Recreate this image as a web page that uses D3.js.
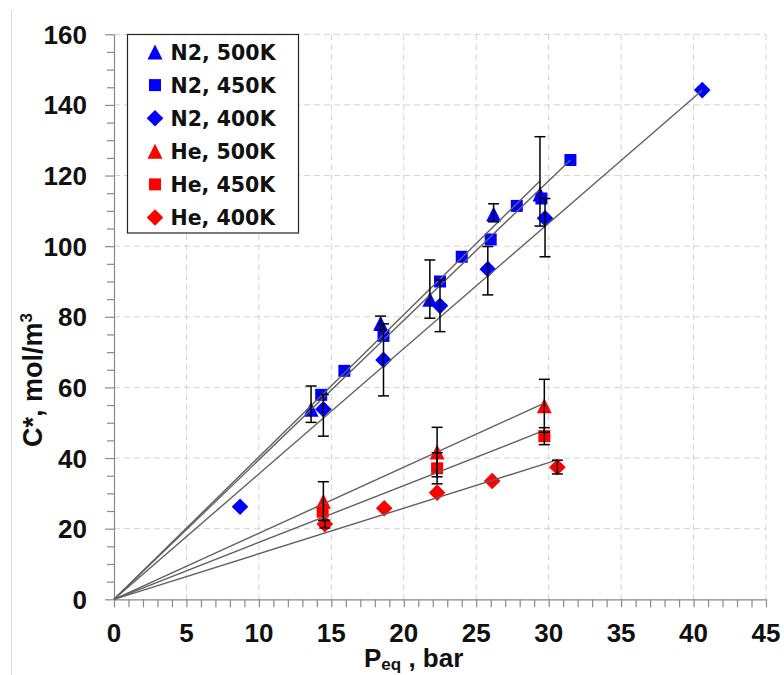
<!DOCTYPE html>
<html>
<head>
<meta charset="utf-8">
<script src="https://cdn.jsdelivr.net/npm/d3@7/dist/d3.min.js"></script>
<style>
  body { margin: 0; background: #fff; }
  text { font-family: "Liberation Sans", Arial, sans-serif; font-weight: bold; }
  text.legend { font-family: "DejaVu Sans", sans-serif; font-size: 20.5px; }
</style>
</head>
<body>
<div id="chart"></div>
<script>
// ---- data ----
const xTicks = [0, 5, 10, 15, 20, 25, 30, 35, 40, 45];
const yTicks = [0, 20, 40, 60, 80, 100, 120, 140, 160];

const seriesNames = ["N2, 500K", "N2, 450K", "N2, 400K", "He, 500K", "He, 450K", "He, 400K"];
const seriesColors = ["#0000ff", "#0000ff", "#0000ff", "#ff0000", "#ff0000", "#ff0000"];
const seriesShapes = ["triangle", "square", "diamond", "triangle", "square", "diamond"];

// N2, 500K
const n2_500_x = [13.6, 18.4, 21.8, 26.2, 29.4];
const n2_500_y = [53.8, 78.2, 85.0, 109.1, 114.8];
const n2_500_up = [6.6, 2.0, 11.1, 2.9, 16.2];
const n2_500_dn = [3.7, 2.0, 5.4, 2.2, 9.1];
// N2, 450K
const n2_450_x = [14.3, 15.9, 18.6, 22.5, 24.0, 26.0, 27.8, 29.5, 31.5];
const n2_450_y = [57.9, 64.7, 74.6, 90.0, 97.0, 101.9, 111.4, 113.5, 124.4];
// N2, 400K
const n2_400_x = [8.7, 14.45, 18.6, 22.5, 25.8, 29.75, 40.6];
const n2_400_y = [26.2, 53.8, 67.8, 83.1, 93.5, 107.9, 144.2];
const n2_400_up = [0, 4.2, 10.2, 7.3, 6.4, 5.6, 0];
const n2_400_dn = [0, 7.6, 10.2, 7.3, 7.3, 10.9, 0];
// He, 500K
const he_500_x = [14.45, 22.3, 29.7];
const he_500_y = [27.8, 41.7, 54.8];
const he_500_up = [5.5, 7.0, 7.5];
const he_500_dn = [5.5, 7.0, 7.5];
// He, 450K
const he_450_x = [14.4, 22.3, 29.7];
const he_450_y = [24.8, 37.1, 46.2];
const he_450_up = [0, 4.4, 2.4];
const he_450_dn = [0, 4.4, 2.4];
// He, 400K
const he_400_x = [14.55, 18.65, 22.3, 26.1, 30.6];
const he_400_y = [21.3, 25.8, 30.2, 33.5, 37.4];
const he_400_up = [1.1, 0, 0, 0, 2.0];
const he_400_dn = [1.1, 0, 0, 0, 1.9];

// linear fits through the origin
const fitSlopes = [4.03, 3.95, 3.55, 1.87, 1.61, 1.29];

const seriesX = [n2_500_x, n2_450_x, n2_400_x, he_500_x, he_450_x, he_400_x];
const seriesY = [n2_500_y, n2_450_y, n2_400_y, he_500_y, he_450_y, he_400_y];
const seriesUp = [n2_500_up, null, n2_400_up, he_500_up, he_450_up, he_400_up];
const seriesDn = [n2_500_dn, null, n2_400_dn, he_500_dn, he_450_dn, he_400_dn];

// ---- layout ----
const W = 784, H = 675;
const m = { left: 114, right: 766, top: 34.3, bottom: 599.3 };

const svg = d3.select("#chart").append("svg")
    .attr("width", W)
    .attr("height", H);

// faint frame line at the left edge of the screenshot
svg.append("line")
    .attr("x1", 11.5).attr("x2", 11.5).attr("y1", 10).attr("y2", H)
    .attr("stroke", "#d8d8d8");

const x = d3.scaleLinear().domain([0, 45]).range([m.left, m.right]);
const y = d3.scaleLinear().domain([0, 160]).range([m.bottom, m.top]);

// grid
const grid = svg.append("g").attr("stroke", "#d4d4d4").attr("stroke-dasharray", "6,4");
grid.selectAll(".gx").data(xTicks.slice(1)).enter().append("line")
    .attr("x1", d => x(d)).attr("x2", d => x(d))
    .attr("y1", m.top).attr("y2", m.bottom);
grid.selectAll(".gy").data(yTicks.slice(1)).enter().append("line")
    .attr("x1", m.left).attr("x2", m.right)
    .attr("y1", d => y(d)).attr("y2", d => y(d));

// axes
const xAxis = svg.append("g")
    .attr("transform", "translate(0," + m.bottom + ")")
    .call(d3.axisBottom(x).ticks(45).tickSize(8).tickSizeOuter(0).tickFormat(""));
const yAxis = svg.append("g")
    .attr("transform", "translate(" + m.left + ",0)")
    .call(d3.axisLeft(y).ticks(40).tickSize(7).tickSizeOuter(0).tickFormat(""));
[xAxis, yAxis].forEach(a => {
    a.selectAll("line, path").attr("stroke", "#8a8a8a").attr("stroke-width", 1.2);
});
yAxis.selectAll(".tick line").filter(d => d % 20 === 0).attr("x2", -9);

svg.append("g").selectAll("text").data(xTicks).enter().append("text")
    .attr("x", d => x(d))
    .attr("y", 642)
    .attr("text-anchor", "middle")
    .attr("font-size", 26)
    .attr("fill", "#111")
    .text(d => d);

svg.append("g").selectAll("text").data(yTicks).enter().append("text")
    .attr("x", 87)
    .attr("y", d => y(d) + 9.5)
    .attr("text-anchor", "end")
    .attr("font-size", 26)
    .attr("fill", "#111")
    .text(d => d);

// axis titles
const xt = svg.append("text")
    .attr("x", 364).attr("y", 667)
    .attr("font-size", 26).attr("fill", "#111");
xt.append("tspan").text("P");
xt.append("tspan").attr("font-size", 17).attr("dy", 3).text("eq");
xt.append("tspan").attr("dy", -3).text(" , bar");

const yt = svg.append("text")
    .attr("transform", "translate(42,380) rotate(-90)")
    .attr("text-anchor", "middle")
    .attr("font-size", 27).attr("fill", "#111");
yt.append("tspan").text("C*, mol/m");
yt.append("tspan").attr("font-size", 17).attr("dy", -10).text("3");

// marker shapes
function shapePath(shape) {
    if (shape === "triangle") return "M0,-7.5L7.5,7.5L-7.5,7.5Z";
    if (shape === "square") return "M-6,-6H6V6H-6Z";
    return "M0,-8.3L8.3,0L0,8.3L-8.3,0Z";
}

const plot = svg.append("g");

// markers
seriesNames.forEach((name, i) => {
    plot.append("g").selectAll("path")
        .data(seriesX[i].map((v, j) => [v, seriesY[i][j]]))
        .enter().append("path")
        .attr("d", shapePath(seriesShapes[i]))
        .attr("transform", d => "translate(" + x(d[0]) + "," + y(d[1]) + ")")
        .attr("fill", seriesColors[i]);
});

// fit lines
seriesNames.forEach((name, i) => {
    const xm = d3.max(seriesX[i]);
    plot.append("line")
        .attr("x1", x(0)).attr("y1", y(0))
        .attr("x2", x(xm)).attr("y2", y(fitSlopes[i] * xm))
        .attr("stroke", "#606060")
        .attr("stroke-width", 1.4);
});

// error bars
seriesNames.forEach((name, i) => {
    if (!seriesUp[i]) return;
    seriesX[i].forEach((v, j) => {
        const up = seriesUp[i][j], dn = seriesDn[i][j];
        if (!up && !dn) return;
        const cx = x(v), y1 = y(seriesY[i][j] + up), y0 = y(seriesY[i][j] - dn);
        const eb = plot.append("g").attr("stroke", "#000").attr("stroke-width", 1.5);
        eb.append("line").attr("x1", cx).attr("x2", cx).attr("y1", y1).attr("y2", y0);
        eb.append("line").attr("x1", cx - 5.5).attr("x2", cx + 5.5).attr("y1", y1).attr("y2", y1);
        eb.append("line").attr("x1", cx - 5.5).attr("x2", cx + 5.5).attr("y1", y0).attr("y2", y0);
    });
});

// legend
const lg = svg.append("g");
lg.append("rect")
    .attr("x", 127.5).attr("y", 34.5).attr("width", 171).attr("height", 198.5)
    .attr("fill", "#fff").attr("stroke", "#222").attr("stroke-width", 1.2);
seriesNames.forEach((name, i) => {
    const ry = 52 + i * 33.1;
    lg.append("path")
        .attr("d", shapePath(seriesShapes[i]))
        .attr("transform", "translate(155," + ry + ")")
        .attr("fill", seriesColors[i]);
    lg.append("text")
        .attr("class", "legend")
        .attr("x", 170.5).attr("y", ry + 7.5)
        .attr("fill", "#111")
        .text(name);
});
</script>
</body>
</html>
